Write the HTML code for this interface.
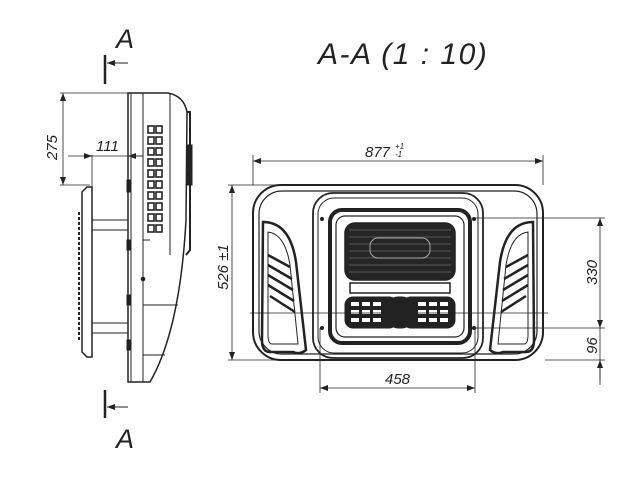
<!DOCTYPE html>
<html><head><meta charset="utf-8"><style>
html,body{margin:0;padding:0;background:#fff;width:640px;height:480px;overflow:hidden}
svg{display:block}
text{font-family:"Liberation Sans",sans-serif;font-style:italic;fill:#222}
</style></head><body>
<svg width="640" height="480" viewBox="0 0 640 480" xmlns="http://www.w3.org/2000/svg">
<defs>
<marker id="ar" markerWidth="8" markerHeight="6" refX="8" refY="3" orient="auto-start-reverse" markerUnits="userSpaceOnUse">
<path d="M0,0 L8,3 L0,6 Z" fill="#222"/></marker>
</defs>
<g stroke="#222" fill="none" stroke-width="1">
<!-- Title -->
<text x="318" y="64" font-size="30" letter-spacing="1.5" stroke="none">A-A (1 : 10)</text>
<!-- section marks -->
<text x="116" y="48" font-size="27" stroke="none">A</text>
<line x1="105" y1="55" x2="105" y2="84" stroke-width="2.5"/>
<line x1="128" y1="63" x2="107" y2="63" marker-end="url(#ar)"/>
<text x="116" y="448" font-size="27" stroke="none">A</text>
<line x1="105" y1="390" x2="105" y2="418" stroke-width="2.5"/>
<line x1="128" y1="407" x2="107" y2="407" marker-end="url(#ar)"/>

<!-- Side view -->
<path d="M128,93 L168,93 Q184,96 187,112 L186,220 Q180,330 150,382 L128,382 Z" stroke-width="1.5"/>
<line x1="143" y1="93" x2="143" y2="382"/>
<line x1="170" y1="93" x2="170" y2="255"/>
<path d="M187,112 L190,112 L190,250 L186,255" stroke-width="2"/>
<rect x="187" y="145" width="5" height="40" fill="#222"/>
<line x1="131" y1="93" x2="131" y2="382"/>
<line x1="143" y1="240" x2="150" y2="240"/>
<line x1="143" y1="305" x2="178" y2="305"/>
<line x1="143" y1="355" x2="165" y2="355"/>
<g stroke-width="1.6">
<rect x="148" y="126" width="6" height="7"/><rect x="156" y="126" width="6" height="7"/>
<rect x="148" y="137" width="6" height="7"/><rect x="156" y="137" width="6" height="7"/>
<rect x="148" y="148" width="6" height="7"/><rect x="156" y="148" width="6" height="7"/>
<rect x="148" y="159" width="6" height="7"/><rect x="156" y="159" width="6" height="7"/>
<rect x="148" y="170" width="6" height="7"/><rect x="156" y="170" width="6" height="7"/>
<rect x="148" y="181" width="6" height="7"/><rect x="156" y="181" width="6" height="7"/>
<rect x="148" y="192" width="6" height="7"/><rect x="156" y="192" width="6" height="7"/>
<rect x="148" y="203" width="6" height="7"/><rect x="156" y="203" width="6" height="7"/>
<rect x="148" y="214" width="6" height="7"/><rect x="156" y="214" width="6" height="7"/>
<rect x="148" y="225" width="6" height="7"/><rect x="156" y="225" width="6" height="7"/>
</g>
<circle cx="143" cy="279" r="1.8" fill="#222"/>
<rect x="127" y="180" width="3" height="12" fill="#222"/>
<rect x="127" y="240" width="3" height="10" fill="#222"/>
<rect x="127" y="295" width="3" height="10" fill="#222"/>
<rect x="127" y="340" width="3" height="10" fill="#222"/>
<!-- flange -->
<path d="M82,192 L87,187 L92,187 L92,357 L87,357 L82,352 Z" stroke-width="1.5"/>
<line x1="79" y1="212" x2="79" y2="340" stroke-dasharray="3,2" stroke-width="2"/>
<line x1="92" y1="220" x2="128" y2="220"/>
<line x1="92" y1="230" x2="128" y2="230"/>
<line x1="92" y1="323" x2="128" y2="323"/>
<line x1="92" y1="333" x2="128" y2="333"/>
<!-- dims side -->
<line x1="60" y1="93" x2="128" y2="93" stroke-width="0.8"/>
<line x1="60" y1="185" x2="90" y2="185" stroke-width="0.8"/>
<line x1="63" y1="93" x2="63" y2="185" marker-start="url(#ar)" marker-end="url(#ar)" stroke-width="0.8"/>
<text x="57" y="160" font-size="15" stroke="none" transform="rotate(-90 57 160)">275</text>
<line x1="92" y1="155" x2="92" y2="187" stroke-width="0.8"/>
<line x1="68" y1="156" x2="92" y2="156" marker-end="url(#ar)" stroke-width="0.8"/>
<line x1="143" y1="156" x2="92" y2="156" stroke-width="0.8"/>
<line x1="128" y1="156" x2="143" y2="156" marker-start="url(#ar)" stroke-width="0.8"/>
<text x="96" y="151" font-size="15" stroke="none">111</text>

<!-- Front view -->
<rect x="253" y="185" width="290" height="175" rx="28" stroke-width="2"/>
<rect x="259" y="191" width="278" height="163" rx="23" stroke-width="1.2"/>
<rect x="313" y="193" width="170" height="165" rx="20" stroke-width="1.8"/>
<rect x="318" y="198" width="160" height="155" rx="16" stroke-width="1"/>
<rect x="330" y="210" width="140" height="133" rx="12" stroke-width="4"/>
<rect x="336" y="216" width="128" height="121" rx="9" stroke-width="1.2"/>
<circle cx="322" cy="219" r="1.5" fill="#222"/><circle cx="474" cy="219" r="1.5" fill="#222"/>
<circle cx="322" cy="328" r="1.5" fill="#222"/><circle cx="474" cy="328" r="1.5" fill="#222"/>
<!-- upper grille -->
<rect x="345" y="223" width="110" height="57" rx="10" fill="#262626" stroke-width="1.5"/>
<g stroke="#666" stroke-width="0.8">
<line x1="349" y1="230" x2="451" y2="230"/><line x1="349" y1="237" x2="451" y2="237"/>
<line x1="349" y1="244" x2="451" y2="244"/><line x1="349" y1="251" x2="451" y2="251"/>
<line x1="349" y1="258" x2="451" y2="258"/><line x1="349" y1="265" x2="451" y2="265"/>
<line x1="349" y1="272" x2="451" y2="272"/>
</g>
<rect x="370" y="238" width="60" height="20" rx="8" stroke="#aaa" stroke-width="1"/>
<rect x="350" y="283" width="100" height="10" fill="#fff" stroke-width="1.5"/>
<!-- lower grille -->
<rect x="345" y="297" width="52" height="31" rx="8" fill="#222"/>
<rect x="403" y="297" width="52" height="31" rx="8" fill="#222"/>
<rect x="388" y="297" width="24" height="31" rx="10" fill="#222"/>
<g fill="#fff" stroke="none">
<rect x="351" y="302" width="8" height="4"/><rect x="362" y="302" width="8" height="4"/><rect x="373" y="302" width="8" height="4"/>
<rect x="351" y="310" width="8" height="4"/><rect x="362" y="310" width="8" height="4"/><rect x="373" y="310" width="8" height="4"/>
<rect x="351" y="318" width="8" height="4"/><rect x="362" y="318" width="8" height="4"/><rect x="373" y="318" width="8" height="4"/>
<rect x="418" y="302" width="8" height="4"/><rect x="429" y="302" width="8" height="4"/><rect x="440" y="302" width="8" height="4"/>
<rect x="418" y="310" width="8" height="4"/><rect x="429" y="310" width="8" height="4"/><rect x="440" y="310" width="8" height="4"/>
<rect x="418" y="318" width="8" height="4"/><rect x="429" y="318" width="8" height="4"/><rect x="440" y="318" width="8" height="4"/>
</g>
<!-- side vents -->
<path d="M263,222 Q290,222 296,262 L306,350 Q300,355 293,352 L270,352 Q262,352 262,340 Z" stroke-width="2.5"/>
<path d="M268,232 Q285,234 290,265 L298,344 L272,344 Q268,344 268,335 Z" stroke-width="1"/>
<g stroke-width="2.5">
<line x1="268" y1="255" x2="290" y2="267"/><line x1="268" y1="265" x2="292" y2="279"/>
<line x1="268" y1="275" x2="293" y2="290"/><line x1="268" y1="285" x2="294" y2="301"/>
<line x1="270" y1="296" x2="295" y2="312"/>
</g>
<path d="M533,222 Q506,222 500,262 L490,350 Q496,355 503,352 L526,352 Q534,352 534,340 Z" stroke-width="2.5"/>
<path d="M528,232 Q511,234 506,265 L498,344 L524,344 Q528,344 528,335 Z" stroke-width="1"/>
<g stroke-width="2.5">
<line x1="528" y1="255" x2="506" y2="267"/><line x1="528" y1="265" x2="504" y2="279"/>
<line x1="528" y1="275" x2="503" y2="290"/><line x1="528" y1="285" x2="502" y2="301"/>
<line x1="526" y1="296" x2="501" y2="312"/>
</g>
<!-- centerline -->
<line x1="250" y1="313" x2="548" y2="313" stroke-width="0.8"/>
<!-- dims front -->
<line x1="253" y1="155" x2="253" y2="185" stroke-width="0.8"/>
<line x1="543" y1="155" x2="543" y2="185" stroke-width="0.8"/>
<line x1="253" y1="161" x2="543" y2="161" marker-start="url(#ar)" marker-end="url(#ar)" stroke-width="0.8"/>
<text x="365" y="157" font-size="15" stroke="none">877</text>
<text x="395" y="149" font-size="8" stroke="none">+1</text>
<text x="395" y="157" font-size="8" stroke="none">-1</text>
<line x1="228" y1="185" x2="300" y2="185" stroke-width="0.8"/>
<line x1="228" y1="360" x2="300" y2="360" stroke-width="0.8"/>
<line x1="232" y1="185" x2="232" y2="360" marker-start="url(#ar)" marker-end="url(#ar)" stroke-width="0.8"/>
<text x="228" y="290" font-size="15" stroke="none" transform="rotate(-90 228 290)">526 ±1</text>
<line x1="475" y1="218" x2="605" y2="218" stroke-width="0.8"/>
<line x1="475" y1="328" x2="605" y2="328" stroke-width="0.8"/>
<line x1="545" y1="360" x2="605" y2="360" stroke-width="0.8"/>
<line x1="600" y1="218" x2="600" y2="328" marker-start="url(#ar)" marker-end="url(#ar)" stroke-width="0.8"/>
<line x1="600" y1="328" x2="600" y2="385" stroke-width="0.8"/>
<line x1="600" y1="380" x2="600" y2="360" marker-end="url(#ar)" stroke-width="0.8"/>
<text x="597" y="285" font-size="15" stroke="none" transform="rotate(-90 597 285)">330</text>
<text x="597" y="354" font-size="15" stroke="none" transform="rotate(-90 597 354)">96</text>
<line x1="320" y1="328" x2="320" y2="393" stroke-width="0.8"/>
<line x1="475" y1="328" x2="475" y2="393" stroke-width="0.8"/>
<line x1="320" y1="388" x2="475" y2="388" marker-start="url(#ar)" marker-end="url(#ar)" stroke-width="0.8"/>
<text x="385" y="384" font-size="15" stroke="none">458</text>
</g>
</svg>
</body></html>
